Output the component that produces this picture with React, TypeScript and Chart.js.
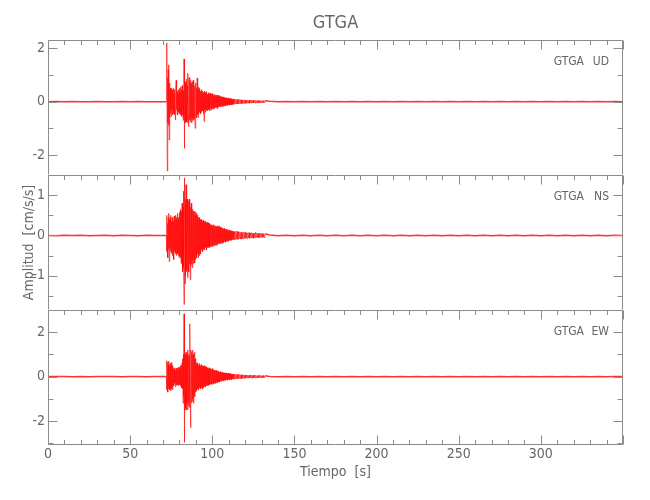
import { useEffect, useRef } from 'react';
import { Chart, registerables } from 'chart.js';

Chart.register(...registerables);

// ---------------- data ----------------
const STATION = 'GTGA';
const COMPONENTS = ['UD', 'NS', 'EW'];
const X_TITLE = 'Tiempo  [s]';
const Y_TITLE = 'Amplitud  [cm/s/s]';
const X_MIN = 0;
const X_MAX = 350;
const X_LABELS = [0, 50, 100, 150, 200, 250, 300];
const X_MINOR_STEP = 10;
const X_MAJOR_STEP = 50;

// sampling grids (seconds)
const PRE_T0 = 0;
const PRE_DT = 5;
const STRONG_T0 = 72;
const STRONG_DT = 0.2;
const CODA_T0 = 112;
const CODA_DT = 0.4;
const TAIL_T0 = 135;
const TAIL_DT = 5;

// y ranges, labelled ticks and minor step per component
const UD_RANGE = [-2.75, 2.31];
const NS_RANGE = [-1.85, 1.5];
const EW_RANGE = [-3.08, 3.0];
const UD_TICKS = [-2, 0, 2];
const NS_TICKS = [-1, 0, 1];
const EW_TICKS = [-2, 0, 2];
const UD_MINOR = 1;
const NS_MINOR = 0.5;
const EW_MINOR = 1;

const UD_PRE = [0, 0.005, -0.005, 0.005, 0, -0.005, 0.005, -0.005, 0, 0.005, -0.005, 0.005, 0, -0.005, 0];
const NS_PRE = [0, -0.005, 0.005, 0, 0.005, -0.005, 0, 0.005, -0.005, 0.005, 0, -0.005, 0.005, 0, 0];
const EW_PRE = [0, 0.005, 0, -0.005, 0.005, -0.005, 0, 0.005, 0, -0.005, 0.005, 0, -0.005, 0.005, 0];

// strong motion, 72.0 .. 111.8 s
const UD_STRONG = [
  0, 1.0, 2.2, -2.6, 0.9, -0.8, 1.2, -0.9, 1.38, -1.44, 0.7, -0.6, 0.5, -0.45, 0.35, -0.55, 0.5, -0.3, 0.45, -0.5,
  0.4, -0.35, 0.5, -0.45, 0.3, -0.5, 0.45, -0.4, -0.69, 0.35, 0.8, -0.3, 0.5, -0.45, 0.4, -0.5, 0.3, -0.4, 0.45, -0.35,
  0.5, -0.45, 0.35, -0.5, 0.55, -0.4, 0.45, -0.55, 0.6, -0.5, 0.5, -0.7, 0.4, -0.6, 1.6, -1.75, 0.9, -0.7, 0.75, -0.8,
  0.7, -0.6, 0.85, -0.75, 0.6, -0.8, 1.06, -0.5, -0.94, 0.7, 0.9, -0.7, 0.6, -0.75, 0.8, -0.65, 0.7, -0.8, 0.55, -0.7,
  0.75, -0.6, 0.8, -0.7, 0.5, -0.65, 0.6, -0.5, -1.0, 0.6, 0.7, -0.55, 0.5, -0.6, 0.88, -0.5, 0.45, -0.6, 0.55, -0.45,
  0.45, -0.4, 0.5, -0.35, 0.4, -0.45, 0.35, -0.4, 0.45, -0.3, 0.4, -0.35, 0.3, -0.45, 0.35, -0.75, 0.4, -0.3, 0.35, -0.4,
  0.35, -0.3, 0.38, -0.32, 0.25, -0.35, 0.3, -0.28, 0.34, -0.3, 0.28, -0.35, 0.3, -0.25, 0.32, -0.3, 0.26, -0.32, 0.3, -0.27,
  0.28, -0.25, 0.3, -0.22, 0.26, -0.28, 0.2, -0.25, 0.27, -0.22, 0.24, -0.2, 0.25, -0.23, 0.2, -0.26, 0.22, -0.2, 0.24, -0.21,
  0.2, -0.18, 0.22, -0.17, 0.19, -0.2, 0.16, -0.18, 0.2, -0.15, 0.17, -0.19, 0.15, -0.17, 0.18, -0.14, 0.16, -0.17, 0.15, -0.16,
  0.14, -0.15, 0.13, -0.14, 0.15, -0.12, 0.13, -0.14, 0.12, -0.13, 0.14, -0.11, 0.12, -0.13, 0.11, -0.12, 0.13, -0.1, 0.11, -0.12,
];
const NS_STRONG = [
  0, -0.4, 0.5, -0.35, 0.3, -0.55, 0.45, -0.35, 0.55, -0.65, 0.4, -0.3, 0.45, -0.4, 0.5, -0.45, 0.35, -0.4, 0.45, -0.5,
  0.4, -0.45, 0.35, -0.6, 0.48, -0.4, 0.45, -0.35, 0.5, -0.45, 0.4, -0.5, 0.45, -0.4, 0.55, -0.45, 0.4, -0.5, 0.45, -0.55,
  0.55, -0.5, 0.6, -0.55, 0.65, -0.7, 0.6, -0.65, 0.8, -0.75, -0.9, 0.7, 1.1, -0.8, -1.71, 1.0, 1.43, -1.2, 0.9, -1.0,
  1.26, -0.9, 1.0, -0.85, 0.9, -1.05, 0.77, -0.8, 0.85, -0.9, 0.9, -0.7, 0.8, -1.1, 0.7, -0.75, 0.8, -0.7, 0.65, -0.8,
  0.65, -0.6, 0.6, -0.7, 0.55, -0.55, 0.6, -0.68, 0.5, -0.6, 0.58, -0.5, 0.55, -0.55, 0.5, -0.45, 0.5, -0.55, 0.45, -0.5,
  0.42, -0.5, 0.45, -0.4, 0.4, -0.45, 0.38, -0.35, 0.4, -0.38, 0.35, -0.4, 0.38, -0.35, 0.33, -0.36, 0.35, -0.32, 0.34, -0.3,
  0.35, -0.32, 0.3, -0.36, 0.33, -0.3, 0.28, -0.3, 0.32, -0.27, 0.3, -0.28, 0.27, -0.3, 0.25, -0.28, 0.28, -0.25, 0.26, -0.27,
  0.25, -0.28, 0.24, -0.25, 0.27, -0.22, 0.23, -0.26, 0.2, -0.24, 0.24, -0.22, 0.22, -0.25, 0.2, -0.23, 0.24, -0.2, 0.22, -0.21,
  0.22, -0.2, 0.24, -0.18, 0.2, -0.21, 0.17, -0.19, 0.2, -0.16, 0.18, -0.2, 0.17, -0.18, 0.16, -0.17, 0.18, -0.15, 0.17, -0.16,
  0.15, -0.17, 0.14, -0.15, 0.16, -0.13, 0.15, -0.14, 0.12, -0.15, 0.13, -0.12, 0.14, -0.11, 0.12, -0.13, 0.11, -0.12, 0.12, -0.1,
];
const EW_STRONG = [
  0, -0.6, 0.72, -0.5, 0.65, -0.7, 0.55, -0.55, 0.7, -0.45, 0.5, -0.6, 0.6, -0.65, 0.55, -0.5, 0.65, -0.55, 0.5, -0.6,
  0.4, -0.42, 0.35, -0.4, 0.38, -0.3, 0.4, -0.45, 0.3, -0.35, 0.38, -0.4, 0.35, -0.38, 0.4, -0.35, 0.3, -0.4, 0.42, -0.35,
  0.4, -0.38, 0.45, -0.4, 0.5, -0.45, 0.5, -0.5, 0.6, -0.55, 0.8, -1.2, 1.0, -0.9, 2.83, -2.96, 1.3, -1.5, 1.0, -1.4,
  1.1, -1.5, 0.9, -1.2, 1.0, -1.5, 1.2, -1.3, 1.0, -1.1, 0.9, -1.4, 2.38, -1.2, -2.3, 1.2, 1.1, -1.2, 1.0, -1.1,
  1.2, -1.0, 1.0, -1.2, 0.9, -0.8, 1.1, -0.9, 0.8, -0.7, 0.7, -0.65, 0.6, -0.6, 0.62, -0.55, 0.55, -0.58, 0.5, -0.6,
  0.55, -0.5, 0.6, -0.5, 0.5, -0.55, 0.48, -0.5, 0.55, -0.45, 0.5, -0.55, 0.45, -0.5, 0.48, -0.45, 0.5, -0.42, 0.45, -0.48,
  0.42, -0.4, 0.45, -0.38, 0.4, -0.42, 0.38, -0.4, 0.36, -0.38, 0.4, -0.35, 0.38, -0.36, 0.35, -0.34, 0.36, -0.35, 0.32, -0.34,
  0.36, -0.3, 0.32, -0.34, 0.3, -0.32, 0.28, -0.3, 0.3, -0.28, 0.27, -0.3, 0.28, -0.26, 0.26, -0.28, 0.25, -0.26, 0.24, -0.25,
  0.25, -0.22, 0.2, -0.24, 0.22, -0.2, 0.18, -0.21, 0.2, -0.17, 0.19, -0.18, 0.17, -0.2, 0.18, -0.16, 0.17, -0.18, 0.16, -0.17,
  0.16, -0.15, 0.17, -0.14, 0.15, -0.16, 0.14, -0.15, 0.16, -0.13, 0.14, -0.15, 0.13, -0.14, 0.15, -0.12, 0.13, -0.14, 0.12, -0.13,
];

// coda, 112.0 .. 132.0 s
const UD_CODA = [
  0.1, -0.11, 0.09, -0.1, 0.1, -0.08, 0.09, -0.09, 0.08, -0.09,
  0.08, -0.07, 0.08, -0.07, 0.07, -0.08, 0.06, -0.07, 0.07, -0.06,
  0.06, -0.07, 0.06, -0.05, 0.06, -0.06, 0.05, -0.06, 0.05, -0.05,
  0.06, -0.05, 0.05, -0.05, 0.04, -0.05, 0.05, -0.04, 0.05, -0.04,
  0.04, -0.05, 0.04, -0.04, 0.04, -0.04, 0.03, -0.04, 0.04, -0.03, 0.03,
];
const NS_CODA = [
  0.11, -0.1, 0.1, -0.11, 0.09, -0.1, 0.11, -0.09, 0.1, -0.1,
  0.09, -0.08, 0.09, -0.09, 0.08, -0.09, 0.07, -0.08, 0.09, -0.07,
  0.08, -0.07, 0.06, -0.08, 0.07, -0.06, 0.07, -0.07, 0.06, -0.06,
  0.07, -0.06, 0.06, -0.07, 0.05, -0.06, 0.08, -0.05, 0.06, -0.05,
  0.05, -0.06, 0.05, -0.05, 0.06, -0.04, 0.05, -0.05, 0.04, -0.05, 0.04,
];
const EW_CODA = [
  0.12, -0.11, 0.1, -0.12, 0.11, -0.09, 0.11, -0.1, 0.09, -0.1,
  0.1, -0.08, 0.1, -0.09, 0.08, -0.09, 0.08, -0.07, 0.08, -0.08,
  0.07, -0.07, 0.07, -0.06, 0.07, -0.07, 0.06, -0.06, 0.07, -0.06,
  0.06, -0.07, 0.06, -0.06, 0.06, -0.05, 0.07, -0.06, 0.05, -0.06,
  0.05, -0.05, 0.06, -0.04, 0.05, -0.05, 0.04, -0.05, 0.05, -0.04, 0.04,
];

const UD_TAIL = [
  0.01, -0.005, 0.005, -0.005, 0.005, -0.005, 0.005, -0.005, 0.005, -0.005, 0.005,
  -0.005, 0.005, -0.005, 0.005, -0.005, 0.005, -0.005, 0.005, -0.005, 0.005, -0.005,
  0.005, -0.005, 0.005, -0.005, 0.005, -0.005, 0.005, -0.005, 0.005, -0.005, 0.005,
  -0.005, 0.005, -0.005, 0.005, -0.005, 0.005, -0.005, 0.005, -0.005, 0.005, 0,
];
const NS_TAIL = [
  0.01, -0.01, 0.005, -0.005, 0.005, -0.005, 0.005, -0.005, 0.005, -0.005, 0.005,
  -0.005, 0.005, -0.005, 0.005, -0.005, 0.005, -0.005, 0.005, -0.005, 0.005, -0.005,
  0.005, -0.005, 0.005, -0.005, 0.005, -0.005, 0.005, -0.005, 0.005, -0.005, 0.005,
  -0.005, 0.005, -0.005, 0.005, -0.005, 0.005, -0.005, 0.005, -0.005, 0.005, 0,
];
const EW_TAIL = [
  0.01, -0.01, 0.005, -0.005, 0.005, -0.005, 0.005, -0.005, 0.005, -0.005, 0.005,
  -0.005, 0.005, -0.005, 0.005, -0.005, 0.005, -0.005, 0.005, -0.005, 0.005, -0.005,
  0.005, -0.005, 0.005, -0.005, 0.005, -0.005, 0.005, -0.005, 0.005, -0.005, 0.005,
  -0.005, 0.005, -0.005, 0.005, -0.005, 0.005, -0.005, 0.005, -0.005, 0.005, 0,
];

// ---------------- style ----------------
const FONT = "'Liberation Sans Narrow', 'DejaVu Sans Condensed', 'Noto Sans', sans-serif";
const TEXT_COLOR = '#666666';
const AXIS_COLOR = '#8c8c8c';
const TRACE_COLOR = 'rgba(255, 0, 0, 0.8)';
const W = 650;
const H = 500;
const PLOT_LEFT = 48;
const PLOT_RIGHT = 623;
const PANEL_EDGES = [40, 175, 310, 445];

type PanelDef = {
  comp: string;
  pre: number[];
  strong: number[];
  coda: number[];
  tail: number[];
  range: number[];
  ticks: number[];
  minor: number;
};

const PANELS: PanelDef[] = [
  { comp: COMPONENTS[0], pre: UD_PRE, strong: UD_STRONG, coda: UD_CODA, tail: UD_TAIL, range: UD_RANGE, ticks: UD_TICKS, minor: UD_MINOR },
  { comp: COMPONENTS[1], pre: NS_PRE, strong: NS_STRONG, coda: NS_CODA, tail: NS_TAIL, range: NS_RANGE, ticks: NS_TICKS, minor: NS_MINOR },
  { comp: COMPONENTS[2], pre: EW_PRE, strong: EW_STRONG, coda: EW_CODA, tail: EW_TAIL, range: EW_RANGE, ticks: EW_TICKS, minor: EW_MINOR },
];

function buildPoints(p: PanelDef) {
  const pts: { x: number; y: number }[] = [];
  p.pre.forEach((v, i) => pts.push({ x: PRE_T0 + i * PRE_DT, y: v }));
  p.strong.forEach((v, i) => pts.push({ x: STRONG_T0 + i * STRONG_DT, y: v }));
  p.coda.forEach((v, i) => pts.push({ x: CODA_T0 + i * CODA_DT, y: v }));
  p.tail.forEach((v, i) => pts.push({ x: TAIL_T0 + i * TAIL_DT, y: v }));
  return pts;
}

const QUIET_BEFORE = STRONG_T0;
const QUIET_AFTER = CODA_T0 + 50 * CODA_DT;

function makeFramePlugin(p: PanelDef, bottomTicks: boolean) {
  return {
    id: 'seisFrame',
    afterDraw(chart: any) {
      const { ctx, chartArea: a, scales } = chart;
      const xs = scales.x;
      const ys = scales.y;
      const L = Math.round(a.left) + 0.5;
      const R = Math.round(a.right) - 0.5;
      const T = Math.round(a.top) + 0.5;
      const B = Math.round(a.bottom) - 0.5;
      ctx.save();
      ctx.strokeStyle = AXIS_COLOR;
      ctx.lineWidth = 1;
      ctx.beginPath();
      ctx.moveTo(L, T);
      ctx.lineTo(R, T);
      ctx.moveTo(L, T);
      ctx.lineTo(L, B);
      ctx.moveTo(R, T);
      ctx.lineTo(R, B);
      if (bottomTicks) {
        ctx.moveTo(L, B);
        ctx.lineTo(R, B);
      }
      // x ticks
      for (let v = X_MIN; v <= X_MAX + 1e-6; v += X_MINOR_STEP) {
        const px = Math.round(xs.getPixelForValue(v)) + 0.5;
        const len = v % X_MAJOR_STEP === 0 ? 9 : 4.5;
        ctx.moveTo(px, T);
        ctx.lineTo(px, T + len);
        if (bottomTicks) {
          ctx.moveTo(px, B);
          ctx.lineTo(px, B - len);
        }
      }
      // y ticks
      const start = Math.ceil(p.range[0] / p.minor) * p.minor;
      for (let v = start; v <= p.range[1] + 1e-6; v += p.minor) {
        const py = Math.round(ys.getPixelForValue(v)) + 0.5;
        const major = p.ticks.some((t) => Math.abs(t - v) < 1e-6);
        const len = major ? 9 : 5;
        ctx.moveTo(L, py);
        ctx.lineTo(L + len, py);
        ctx.moveTo(R, py);
        ctx.lineTo(R - len, py);
      }
      ctx.stroke();
      // component label
      ctx.fillStyle = TEXT_COLOR;
      ctx.font = `12px ${FONT}`;
      ctx.textBaseline = 'middle';
      ctx.textAlign = 'right';
      const ly = a.top + 22;
      ctx.fillText(p.comp, a.right - 14, ly);
      ctx.fillText(STATION, a.right - 39, ly);
      ctx.restore();
    },
  };
}

function SeismoPanel({ idx }: { idx: number }) {
  const ref = useRef<HTMLCanvasElement | null>(null);
  useEffect(() => {
    const p = PANELS[idx];
    const isTop = idx === 0;
    const isMid = idx === 1;
    const isBottom = idx === PANELS.length - 1;
    const top = PANEL_EDGES[idx];
    const bottom = PANEL_EDGES[idx + 1];
    const xAxisH = 55;
    const chart = new Chart(ref.current as HTMLCanvasElement, {
      type: 'line',
      data: {
        datasets: [
          {
            data: buildPoints(p),
            borderColor: TRACE_COLOR,
            borderWidth: 0.8,
            borderJoinStyle: 'round',
            pointRadius: 0,
            tension: 0,
            fill: false,
            segment: {
              borderWidth: (c: any) =>
                c.p0.parsed.x < QUIET_BEFORE || c.p0.parsed.x >= QUIET_AFTER ? 1.5 : 0.8,
            },
          } as any,
        ],
      },
      options: {
        responsive: false,
        animation: false,
        devicePixelRatio: 1,
        events: [],
        layout: {
          padding: {
            left: 0,
            right: W - PLOT_RIGHT,
            top: isTop ? 0 : top,
            bottom: isBottom ? H - bottom - xAxisH : H - bottom,
          },
        },
        plugins: {
          legend: { display: false },
          tooltip: { enabled: false },
          title: {
            display: isTop,
            text: STATION,
            fullSize: false,
            color: TEXT_COLOR,
            font: { family: FONT, size: 18, weight: 'normal' },
            padding: { top: 12.2, bottom: 6.2 },
          },
        },
        scales: {
          x: {
            type: 'linear',
            min: X_MIN,
            max: X_MAX,
            display: isBottom,
            afterFit: (s: any) => {
              s.height = isBottom ? xAxisH : 0;
            },
            afterBuildTicks: (s: any) => {
              s.ticks = X_LABELS.map((v) => ({ value: v }));
            },
            grid: { display: false, drawTicks: false },
            border: { display: false },
            ticks: {
              padding: 1,
              maxRotation: 0,
              autoSkip: false,
              color: TEXT_COLOR,
              font: { family: FONT, size: 14 },
            },
            title: {
              display: isBottom,
              text: X_TITLE,
              color: TEXT_COLOR,
              font: { family: FONT, size: 14 },
              padding: { top: 0, bottom: 19.6 },
            },
          },
          y: {
            type: 'linear',
            min: p.range[0],
            max: p.range[1],
            afterFit: (s: any) => {
              s.width = PLOT_LEFT;
            },
            afterBuildTicks: (s: any) => {
              s.ticks = p.ticks.map((v) => ({ value: v }));
            },
            grid: { display: false, drawTicks: false },
            border: { display: false },
            ticks: {
              padding: 3,
              color: TEXT_COLOR,
              font: { family: FONT, size: 14 },
            },
            title: {
              display: isMid,
              text: Y_TITLE,
              color: TEXT_COLOR,
              font: { family: FONT, size: 14 },
              padding: { top: 20.6, bottom: 0 },
            },
          },
        },
      },
      plugins: [makeFramePlugin(p, isBottom)],
    } as any);
    return () => chart.destroy();
  }, [idx]);
  return (
    <canvas
      ref={ref}
      width={W}
      height={H}
      style={{ position: 'absolute', left: 0, top: 0, width: W, height: H }}
    />
  );
}

export default function App() {
  return (
    <div style={{ position: 'absolute', left: 0, top: 0, width: W, height: H, background: '#ffffff' }}>
      {PANELS.map((_, i) => (
        <SeismoPanel key={i} idx={i} />
      ))}
    </div>
  );
}
